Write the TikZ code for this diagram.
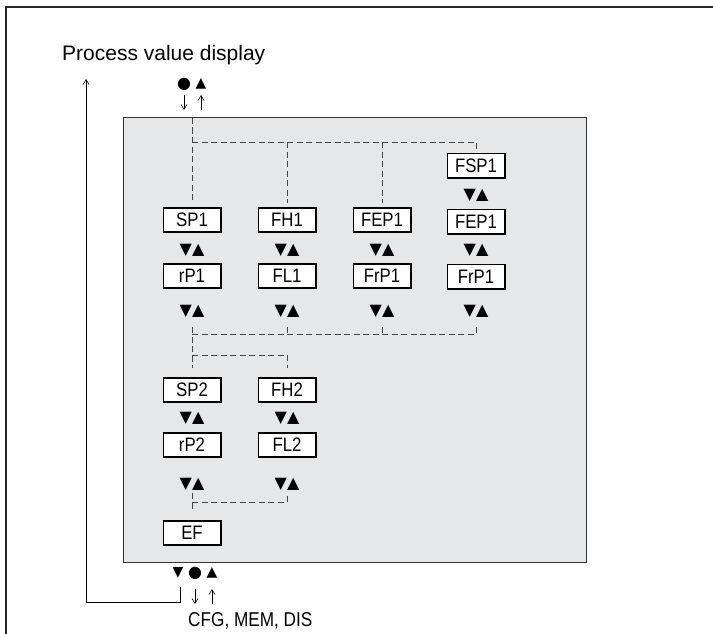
\documentclass[tikz,border=0pt]{standalone}
\usepackage{fontspec}
\setmainfont{Liberation Sans}
\newfontfamily\narrowf[FakeStretch=0.86]{Liberation Sans}
\newfontfamily\symf{DejaVu Sans}
\usetikzlibrary{arrows.meta}
\definecolor{panelgray}{HTML}{E6E7E9}
\definecolor{dashgray}{HTML}{444444}
\begin{document}
\begin{tikzpicture}[x=1pt,y=-1pt,
  menubox/.style={draw=black, line width=1.6pt, fill=white, minimum width=57.4pt,
    minimum height=24.4pt, inner sep=0pt, font=\narrowf\fontsize{19.5}{19.5}\selectfont},
  updn/.style={font=\symf\fontsize{16}{16}\selectfont, inner sep=0pt},
  sym/.style={font=\symf\fontsize{14}{14}\selectfont, inner sep=0pt},
  dot/.style={font=\symf\fontsize{16}{16}\selectfont, inner sep=0pt},
  dline/.style={draw=dashgray, line width=0.9pt, dash pattern=on 6pt off 3.5pt},
  thin arrow/.style={draw=black, line width=0.6pt, -{Straight Barb[length=5pt,width=6pt,line width=0.6pt]}},
  thinline/.style={draw=black, line width=0.6pt}
]
\useasboundingbox (0,0) rectangle (713,634);
% outer frame
\draw[line width=2pt, draw=black!85] (6,634) -- (6,7) -- (713,7);
% panel
\draw[fill=panelgray, draw=black!80, line width=1pt] (123,118) rectangle (586,562);

% title
\node[anchor=base west, inner sep=0pt, font=\fontsize{21}{21}\selectfont] (pvd) at (62,60.5) {Process value display};

% top symbols
\node[dot] (tdot) at (184,84) {●};
\node[sym] (tup) at (201,84) {▲};
\coordinate (tda) at (184,95);
\coordinate (tdb) at (184,110);
\coordinate (tua) at (201,110);
\coordinate (tub) at (201,95);
\draw[thin arrow] (tda) -- (tdb);
\draw[thin arrow] (tua) -- (tub);

% menu boxes
\node[menubox] (fsp1) at (476,165.5) {FSP1};
\node[menubox] (sp1) at (192,220) {SP1};
\node[menubox] (fh1) at (287,220) {FH1};
\node[menubox] (fep1) at (382,220) {FEP1};
\node[menubox] (fep1b) at (476,221.5) {FEP1};
\node[menubox] (rp1) at (192,276) {rP1};
\node[menubox] (fl1) at (287,276) {FL1};
\node[menubox] (frp1) at (382,276) {FrP1};
\node[menubox] (frp1b) at (476,276.5) {FrP1};
\node[menubox] (sp2) at (192,390) {SP2};
\node[menubox] (fh2) at (287,390) {FH2};
\node[menubox] (rp2) at (192,445) {rP2};
\node[menubox] (fl2) at (287,445) {FL2};
\node[menubox] (ef) at (192,533) {EF};

% up/down symbols
\node[updn] (ud0) at (476,195) {▼▲};
\node[updn] (ua1) at (192,250) {▼▲};
\node[updn] (ua2) at (287,250) {▼▲};
\node[updn] (ua3) at (382,250) {▼▲};
\node[updn] (ua4) at (476,250) {▼▲};
\node[updn] (ub1) at (192,311) {▼▲};
\node[updn] (ub2) at (287,311) {▼▲};
\node[updn] (ub3) at (382,311) {▼▲};
\node[updn] (ub4) at (476,311) {▼▲};
\node[updn] (uc1) at (192,418) {▼▲};
\node[updn] (uc2) at (287,418) {▼▲};
\node[updn] (ud1) at (192,484) {▼▲};
\node[updn] (ud2) at (287,484) {▼▲};

% dashed connectors, top
\coordinate (entry) at (192,118);
\coordinate (topbus) at (192,142);
\coordinate (c1top) at (192,203);
\coordinate (c4top) at (476,150);
\coordinate (c2top) at (287,203);
\coordinate (c3top) at (382,203);
\draw[dline] (entry) -- (c1top);
\draw[dline] (topbus) -| (c4top);
\draw[dline] (fh1.north |- topbus) -- (c2top);
\draw[dline] (fep1.north |- topbus) -- (c3top);

% dashed connectors, middle
\coordinate (midbus) at (192,334);
\coordinate (bus2) at (192,355);
\coordinate (t1) at (192,327);
\coordinate (t2) at (287,327);
\coordinate (t3) at (382,327);
\coordinate (t4) at (476,327);
\coordinate (sp2top) at (192,368);
\coordinate (fh2top) at (287,368);
\draw[dline] (t1) -- (sp2top);
\draw[dline] (midbus) -- (midbus -| t4);
\draw[dline] (t2) -- (midbus -| t2);
\draw[dline] (t3) -- (midbus -| t3);
\draw[dline] (t4) -- (midbus -| t4);
\draw[dline] (bus2) -| (fh2top);

% dashed connectors, bottom
\coordinate (lowbus) at (192,502);
\coordinate (l1) at (192,493);
\coordinate (l2) at (287,493);
\coordinate (eftop) at (192,512);
\draw[dline] (l1) -- (eftop);
\draw[dline] (lowbus) -| (l2);

% bottom symbols
\node[sym] (bdn) at (178,573) {▼};
\node[dot] (bdot) at (195,573) {●};
\node[sym] (bup) at (212,573) {▲};
\coordinate (bda) at (195,589);
\coordinate (bdb) at (195,604);
\coordinate (bua) at (212,604);
\coordinate (bub) at (212,589);
\draw[thin arrow] (bda) -- (bdb);
\draw[thin arrow] (bua) -- (bub);

% return path to process value display
\coordinate (ret0) at (180,587);
\coordinate (ret1) at (180,602);
\coordinate (ret2) at (86,602);
\coordinate (ret3) at (86,79);
\draw[thinline] (ret0) -- (ret1) -- (ret2);
\draw[thin arrow] (ret2) -- (ret3);

\node[anchor=base west, inner sep=0pt, font=\narrowf\fontsize{20}{20}\selectfont] (cfg) at (188,626.5) {CFG, MEM, DIS};
\end{tikzpicture}
\end{document}
